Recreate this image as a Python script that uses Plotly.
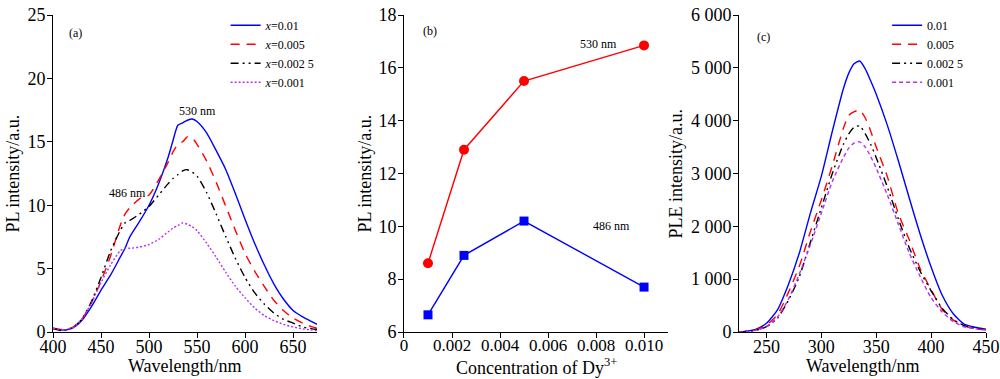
import plotly.graph_objects as go

# ---------------- Panel (a): PL emission spectra ----------------
wl_a = [400, 410, 420, 430, 440, 450, 460, 470, 475, 480, 490, 500, 510, 520, 525, 530, 535,
        540, 545, 550, 560, 570, 580, 590, 600, 610, 620, 630, 640, 650, 660, 670, 675]
pl_001 = [0.26, 0.15, 0.3, 0.9, 2.0, 3.3, 4.5, 5.9, 6.6, 7.5, 8.7, 10.0, 11.7, 13.8, 15.1, 16.3, 16.5,
          16.7, 16.8, 16.6, 15.7, 14.3, 12.8, 10.9, 8.9, 7.0, 5.3, 3.8, 2.6, 1.7, 1.2, 0.8, 0.6]
pl_0005 = [0.3, 0.2, 0.35, 1.0, 2.3, 4.0, 6.0, 8.4, 9.3, 9.8, 10.5, 10.8, 12.0, 13.4, 14.2, 14.8, 15.0,
           15.4, 15.3, 14.8, 13.5, 11.8, 9.9, 8.0, 6.2, 4.8, 3.6, 2.5, 1.7, 1.1, 0.7, 0.4, 0.3]
pl_00025 = [0.3, 0.1, 0.3, 1.0, 2.4, 4.3, 6.4, 8.0, 8.6, 8.8, 9.3, 9.9, 10.8, 11.7, 12.1, 12.4, 12.7,
            12.8, 12.6, 12.3, 11.0, 9.3, 7.5, 5.8, 4.3, 3.1, 2.2, 1.5, 1.0, 0.7, 0.4, 0.25, 0.2]
pl_0001 = [0.3, 0.15, 0.3, 1.0, 2.3, 3.9, 5.3, 6.4, 6.6, 6.6, 6.7, 6.9, 7.3, 7.9, 8.2, 8.4, 8.6,
           8.5, 8.3, 8.0, 7.0, 5.9, 4.7, 3.6, 2.7, 1.9, 1.3, 0.9, 0.6, 0.4, 0.25, 0.15, 0.1]

# ---------------- Panel (b): intensity vs concentration ----------------
conc = [0.001, 0.0025, 0.005, 0.010]
int_530 = [8.6, 12.9, 15.5, 16.85]
int_486 = [6.65, 8.9, 10.2, 7.7]
b_xticks = [0, 0.002, 0.004, 0.006, 0.008, 0.010]
b_xticktext = ["0", "0.002", "0.004", "0.006", "0.008", "0.010"]

# ---------------- Panel (c): PLE excitation spectra ----------------
wl_c = [225, 230, 240, 250, 260, 270, 280, 290, 300, 310, 320, 325, 330, 335, 340, 345, 350,
        360, 370, 380, 390, 400, 410, 420, 430, 440, 450]
ple_001 = [5, 10, 50, 165, 420, 900, 1500, 2250, 2950, 3800, 4600, 4900, 5080, 5130, 4980, 4750, 4500,
           3920, 3250, 2540, 1850, 1230, 700, 350, 150, 90, 50]
ple_0005 = [0, 5, 40, 130, 330, 750, 1250, 1900, 2500, 3150, 3850, 4100, 4170, 4200, 4050, 3800, 3500,
            2950, 2250, 1750, 1200, 800, 430, 230, 120, 60, 40]
ple_00025 = [0, 5, 30, 100, 260, 600, 1050, 1700, 2350, 3000, 3550, 3750, 3880, 3900, 3750, 3550, 3300,
             2750, 2150, 1600, 1150, 780, 450, 240, 120, 70, 50]
ple_0001 = [0, 5, 30, 100, 280, 620, 1100, 1650, 2250, 2850, 3300, 3480, 3580, 3600, 3500, 3320, 3100,
            2600, 2050, 1500, 1050, 650, 380, 200, 100, 60, 40]
c_yticks = [0, 1000, 2000, 3000, 4000, 5000, 6000]
c_yticktext = ["0", "1 000", "2 000", "3 000", "4 000", "5 000", "6 000"]

BLUE = "#0000FF"
RED = "#FF0000"
BLACK = "#000000"
VIOLET = "#B030FF"
FONT = "Liberation Serif"

fig = go.Figure()

# panel a
specs_a = [
    (pl_001, "<i>x</i>=0.01", BLUE, "solid"),
    (pl_0005, "<i>x</i>=0.005", RED, "9px,7px"),
    (pl_00025, "<i>x</i>=0.002 5", BLACK, "8px,4px,2px,4px,2px,4px"),
    (pl_0001, "<i>x</i>=0.001", VIOLET, "2px,2px"),
]
for ys, name, col, dash in specs_a:
    fig.add_trace(go.Scatter(x=wl_a, y=ys, name=name, mode="lines",
                             line=dict(color=col, width=1.4, dash=dash, shape="spline", smoothing=0.6),
                             xaxis="x", yaxis="y", legend="legend"))

# panel b
fig.add_trace(go.Scatter(x=conc, y=int_530, mode="lines+markers", showlegend=False,
                         line=dict(color=RED, width=1.4),
                         marker=dict(symbol="circle", size=10, color=RED),
                         xaxis="x2", yaxis="y2"))
fig.add_trace(go.Scatter(x=conc, y=int_486, mode="lines+markers", showlegend=False,
                         line=dict(color=BLUE, width=1.4),
                         marker=dict(symbol="square", size=9, color=BLUE),
                         xaxis="x2", yaxis="y2"))

# panel c
specs_c = [
    (ple_001, "0.01", BLUE, "solid"),
    (ple_0005, "0.005", RED, "9px,7px"),
    (ple_00025, "0.002 5", BLACK, "8px,4px,2px,4px,2px,4px"),
    (ple_0001, "0.001", VIOLET, "4px,3px"),
]
for ys, name, col, dash in specs_c:
    fig.add_trace(go.Scatter(x=wl_c, y=ys, name=name, mode="lines",
                             line=dict(color=col, width=1.4, dash=dash, shape="spline", smoothing=0.6),
                             xaxis="x3", yaxis="y3", legend="legend2"))

tickfont = dict(family=FONT, size=18, color="black")
axis_common = dict(showline=True, linecolor="black", linewidth=1, ticks="outside", ticklen=5,
                   tickcolor="black", tickwidth=1, showgrid=False, zeroline=False,
                   tickfont=tickfont, automargin=False)
xcommon = dict(axis_common, ticklabelstandoff=-7)
ycommon = dict(axis_common, ticklabelstandoff=-2)

fig.update_layout(
    width=1000, height=379,
    margin=dict(l=53, r=14, t=14, b=47),
    paper_bgcolor="white", plot_bgcolor="white",
    font=dict(family=FONT, color="black"),
    xaxis=dict(domain=[0, 0.283], range=[400, 675], tickvals=[400, 450, 500, 550, 600, 650],
               anchor="y", **xcommon),
    yaxis=dict(domain=[0, 1], range=[0, 25], tickvals=[0, 5, 10, 15, 20, 25], anchor="x", **ycommon),
    xaxis2=dict(domain=[0.3762, 0.6592], range=[0, 0.011], tickvals=b_xticks, ticktext=b_xticktext,
                anchor="y2", **dict(xcommon, tickfont=dict(family=FONT, size=17, color="black"))),
    yaxis2=dict(domain=[0, 1], range=[6, 18], tickvals=[6, 8, 10, 12, 14, 16, 18], anchor="x2", **ycommon),
    xaxis3=dict(domain=[0.7353, 1.0], range=[225, 450], tickvals=[250, 300, 350, 400, 450],
                anchor="y3", **xcommon),
    yaxis3=dict(domain=[0, 1], range=[0, 6000], tickvals=c_yticks, ticktext=c_yticktext,
                anchor="x3", **ycommon),
    legend=dict(x=0.185, y=1.01, xanchor="left", yanchor="top", bgcolor="rgba(0,0,0,0)",
                font=dict(family=FONT, size=12, color="black"), itemwidth=30, tracegroupgap=0),
    legend2=dict(x=0.894, y=1.01, xanchor="left", yanchor="top", bgcolor="rgba(0,0,0,0)",
                 font=dict(family=FONT, size=12, color="black"), itemwidth=30, tracegroupgap=0),
    showlegend=True,
)

ann_font = dict(family=FONT, size=12, color="black")
annotations = [
    dict(text="(a)", x=423, y=23.6, xref="x", yref="y"),
    dict(text="530 nm", x=550, y=17.4, xref="x", yref="y"),
    dict(text="486 nm", x=478, y=11.0, xref="x", yref="y"),
    dict(text="(b)", x=0.00108, y=17.4, xref="x2", yref="y2"),
    dict(text="530 nm", x=0.0081, y=16.9, xref="x2", yref="y2"),
    dict(text="486 nm", x=0.00863, y=10.0, xref="x2", yref="y2"),
    dict(text="(c)", x=247, y=5580, xref="x3", yref="y3"),
]
for a in annotations:
    a.update(showarrow=False, font=ann_font)

# axis titles
tf = dict(family=FONT, size=18, color="black")
titles = [
    dict(text="Wavelength/nm", x=0.5, y=-0.108, xref="x domain", yref="y domain"),
    dict(text="Concentration of Dy<sup>3+</sup>", x=0.5, y=-0.108, xref="x2 domain", yref="y2 domain"),
    dict(text="Wavelength/nm", x=0.5, y=-0.108, xref="x3 domain", yref="y3 domain"),
    dict(text="PL intensity/a.u.", x=-0.1515, y=0.5, xref="x domain", yref="y domain", textangle=-90),
    dict(text="PL intensity/a.u.", x=-0.1477, y=0.5, xref="x2 domain", yref="y2 domain", textangle=-90),
    dict(text="PLE intensity/a.u.", x=-0.259, y=0.5, xref="x3 domain", yref="y3 domain", textangle=-90),
]
for t in titles:
    t.update(showarrow=False, font=tf, xanchor="center", yanchor="middle")

fig.update_layout(annotations=annotations + titles)

fig.write_html("out.html", config={"displayModeBar": False},
               post_script="document.body.style.margin='0';")
